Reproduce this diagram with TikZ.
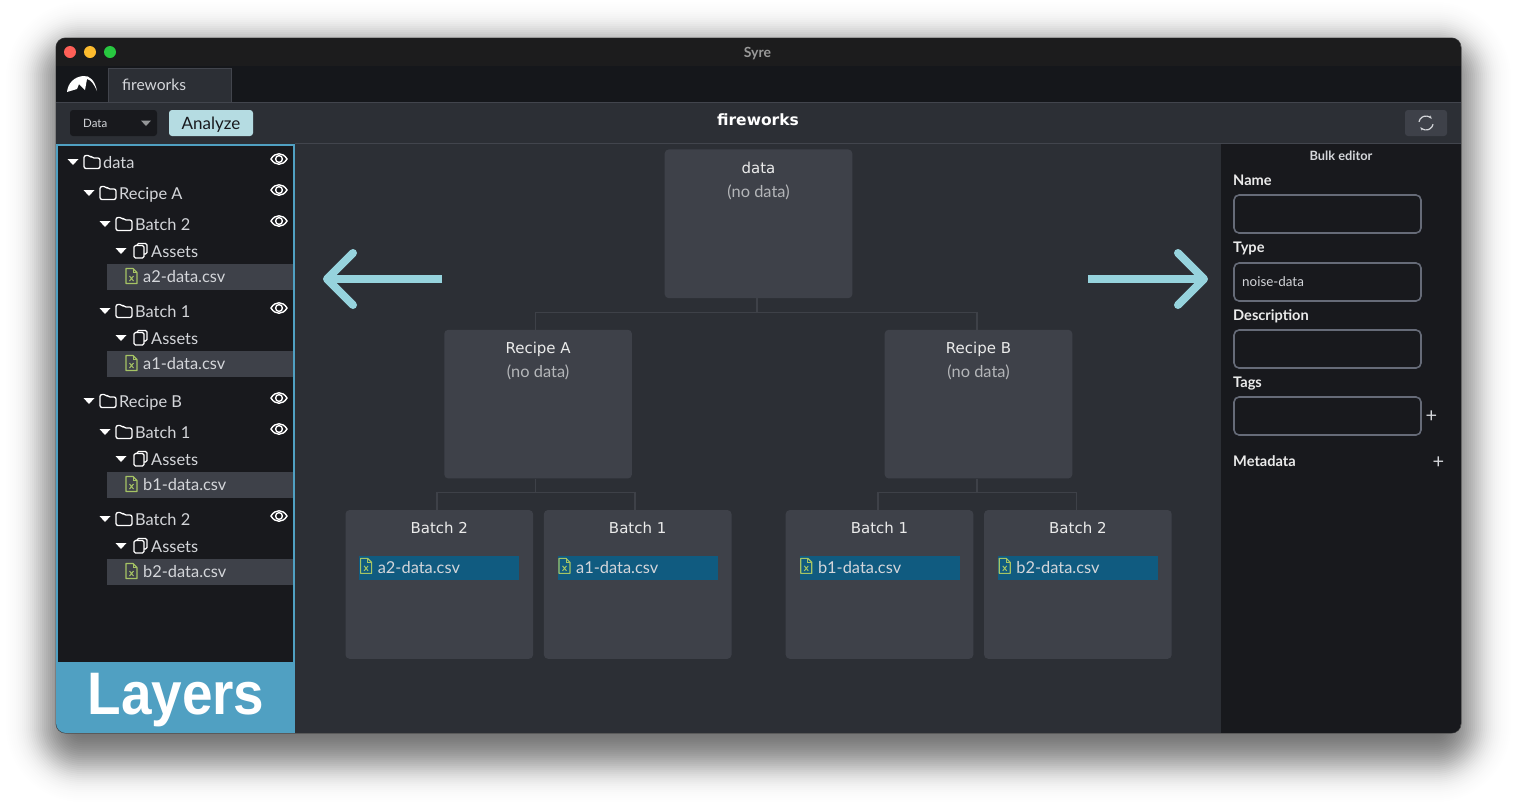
\documentclass[tikz,border=0pt]{standalone}
\usepackage{fontspec}
\setmainfont{Lato}
\newfontfamily\boxfont{DejaVu Sans}
\newfontfamily\layersfont[FakeStretch=0.915]{Liberation Sans}
\usetikzlibrary{positioning,arrows.meta}
\definecolor{winbg}{HTML}{2C2F35}
\definecolor{panelbg}{HTML}{18191D}
\definecolor{titlebg}{HTML}{1C1C1D}
\definecolor{stripbg}{HTML}{15171B}
\definecolor{boxbg}{HTML}{3E4149}
\definecolor{edgegray}{HTML}{42454D}
\definecolor{inputgray}{HTML}{666B78}
\definecolor{layerblue}{HTML}{50A0C2}
\definecolor{filebar}{HTML}{105B80}
\definecolor{filegreen}{HTML}{A6C464}
\definecolor{arrowcyan}{HTML}{96D3DD}
\definecolor{analyzecyan}{HTML}{B5DCE2}
\definecolor{softwhite}{HTML}{D4D6DA}
\definecolor{lightred}{HTML}{FF5F57}
\definecolor{lightamber}{HTML}{FEBC2E}
\definecolor{lightgreen}{HTML}{28C840}
\tikzset{
 fs/.style={font=\fontsize{#1}{#1}\selectfont},
 treelabel/.style={anchor=west, inner sep=0pt, text=softwhite, fs=16.4, text height=13pt, text depth=1pt},
 graphbox/.style={rounded corners=4pt, fill=boxbg, minimum width=187.6pt, minimum height=148.7pt, inner sep=0pt},
 boxtitle/.style={inner sep=0pt, text=white!92!black, font=\boxfont\fontsize{15}{15}\selectfont, text height=10pt, text depth=0pt},
 boxsub/.style={inner sep=0pt, text=softwhite!85!black, fs=16.4, text height=10pt, text depth=3pt},
 filechip/.style={fill=filebar, minimum width=160pt, minimum height=24pt, inner sep=0pt},
 link/.style={draw=edgegray!80!winbg, line width=1.6pt},
 inputbox/.style={draw=inputgray, line width=1.6pt, rounded corners=5pt, fill=panelbg, minimum width=187pt, minimum height=38pt, inner sep=0pt},
 formlabel/.style={anchor=west, inner sep=0pt, text=white!92!black, font=\bfseries\fontsize{14.6}{14.6}\selectfont, text height=10pt, text depth=0pt},
 bigarrow/.style={draw=arrowcyan, line width=8pt},
 pics/downtri/.style={code={\fill[white] (-5.5,-3) -- (5.5,-3) -- (0,3) -- cycle;}},
 pics/foldericon/.style={code={
   \draw[white, line width=1.3pt, rounded corners=2pt, line join=round] (0,6.5) -- (0,-6.5) -- (6,-6.5) -- (8,-4) -- (16,-4) -- (16,6.5) -- cycle;}},
 pics/stackicon/.style={code={
   \draw[white, line width=1.1pt, rounded corners=1.5pt] (3,-5.5) -- (3,-7.5) -- (13,-7.5) -- (13,3) -- (10,3);
   \draw[white, line width=1.3pt, rounded corners=1.5pt] (0,-5.5) rectangle (10,7);}},
 pics/fileicon/.style={code={
   \draw[filegreen, line width=1.2pt, line join=round] (0,-7.5) -- (7,-7.5) -- (11,-3.5) -- (11,7.5) -- (0,7.5) -- cycle;
   \draw[filegreen, line width=.9pt] (7,-7.5) -- (7,-3.5) -- (11,-3.5);
   \draw[filegreen, line width=1pt] (3.5,0) -- (7.5,5) (7.5,0) -- (3.5,5);}},
 pics/eyeicon/.style={code={
   \draw[white, line width=1.4pt] (-8,0) .. controls (-4,-7) and (4,-7) .. (8,0) .. controls (4,7) and (-4,7) .. cycle;
   \draw[white, line width=1.4pt] (0,0) circle (3.4);}},
 pics/folderrow/.style={code={
   \pic at (0,0) {downtri};
   \pic at (11,0) {foldericon};
   \node[treelabel] (-label) at (30,0) {#1};}},
 pics/assetrow/.style={code={
   \pic at (0,0) {downtri};
   \pic at (13,0) {stackicon};
   \node[treelabel] (-label) at (30,0) {Assets};}},
 pics/filerow/.style={code={
   \fill[boxbg] (-19,-12.5) rectangle (167,13.5);
   \pic at (0,-0.5) {fileicon};
   \node[treelabel] (-label) at (17,0) {#1};}},
}
\begin{document}
\begin{tikzpicture}[x=1pt, y=-1pt]
 \useasboundingbox (0,0) rectangle (1517,807);
 \fill[white] (0,0) rectangle (1517,807);
 % shadow
 \foreach \i [evaluate=\i as \r using {max(\i+32,8)}, evaluate=\i as \o using {0.033*exp(-(\i*\i)/722)}] in {54,52,...,-40} {
  \fill[black, opacity=\o, rounded corners=\r pt] (50-\i,46-\i) rectangle (1467+\i,758+\i);
 }
 \fill[black!70, rounded corners=10pt] (55.5,37.5) rectangle (1461.5,733.5);
 \begin{scope}
  \clip[rounded corners=10pt] (56,38) rectangle (1461,733);
  \fill[winbg] (56,38) rectangle (1461,733);
  \fill[titlebg] (56,38) rectangle (1461,66);
  \fill[stripbg] (56,66) rectangle (1461,102);
  \fill[panelbg] (1221,144) rectangle (1461,733);
  \fill[panelbg] (57,144) rectangle (294,662);
  \draw[edgegray, line width=1pt] (56,102.5) -- (1461,102.5) (295,143.5) -- (1461,143.5);
  \draw[layerblue, line width=2pt] (57,662) -- (57,145) -- (294,145) -- (294,662);
  \fill[layerblue] (56,662) rectangle (295,733);
 \end{scope}
 % title bar
 \fill[lightred] (70,52) circle (6);
 \fill[lightamber] (90,52) circle (6);
 \fill[lightgreen] (110,52) circle (6);
 \node[inner sep=0pt, text=white!60!black, font=\bfseries\fontsize{14}{14}\selectfont] (syre) at (757.5,53.5) {Syre};
 % tab strip
 \fill[winbg] (109,69) rectangle (231,102);
 \draw[edgegray, line width=1pt] (108.5,102) -- (108.5,68.5) -- (231.5,68.5) -- (231.5,102);
 \node[inner sep=0pt, anchor=west, text=softwhite, fs=15.6] (tabname) at (122,85) {fireworks};
 \fill[white] (67,92) .. controls (68,83) and (74,77) .. (83,76) .. controls (90,75) and (95,81) .. (97,91) .. controls (94,84) and (91,80) .. (87,79) -- (85,90) -- (79,84) -- (77,89) -- cycle;
 % toolbar
 \node[fill=panelbg, rounded corners=3pt, minimum width=87pt, minimum height=26pt, inner sep=0pt] (datamenu) at (113.5,123) {};
 \node[inner sep=0pt, anchor=west, text=softwhite, fs=11.5] (datalabel) at (83,123.5) {Data};
 \fill[softwhite!70!black] (141,120.5) -- (151,120.5) -- (146,126) -- cycle;
 \node[fill=analyzecyan, rounded corners=3pt, minimum width=84pt, minimum height=26pt, inner sep=0pt, text=panelbg, fs=17, text height=13pt, text depth=1pt] (analyze) at (211,123) {Analyze};
 \node[inner sep=0pt, text=white, font=\boxfont\bfseries\fontsize{15.5}{15.5}\selectfont] (maintitle) at (758,119.5) {fireworks};
 \node[fill=boxbg, rounded corners=3pt, minimum width=42pt, minimum height=26pt, inner sep=0pt] (refresh) at (1426,123) {};
 \draw[softwhite, line width=1.2pt, -{Stealth[length=3.5pt]}] (refresh.center) ++(-7,-1.2) arc[start angle=190, end angle=325, radius=7];
 \draw[softwhite, line width=1.2pt, -{Stealth[length=3.5pt]}] (refresh.center) ++(7,1.2) arc[start angle=10, end angle=145, radius=7];
 % tree
 \pic (tdata) at (73,162) {folderrow=data};
 \pic (trecipea) at (89,193) {folderrow=Recipe A};
 \pic (tbatcha) at (105,224) {folderrow=Batch 2};
 \pic (tassetsa) at (121,251) {assetrow};
 \pic (tfilea) at (126,276.5) {filerow=a2-data.csv};
 \pic (tbatchb) at (105,311) {folderrow=Batch 1};
 \pic (tassetsb) at (121,338) {assetrow};
 \pic (tfileb) at (126,363.5) {filerow=a1-data.csv};
 \pic (trecipeb) at (89,401) {folderrow=Recipe B};
 \pic (tbatchc) at (105,432) {folderrow=Batch 1};
 \pic (tassetsc) at (121,459) {assetrow};
 \pic (tfilec) at (126,484.5) {filerow=b1-data.csv};
 \pic (tbatchd) at (105,519) {folderrow=Batch 2};
 \pic (tassetsd) at (121,546) {assetrow};
 \pic (tfiled) at (126,571.5) {filerow=b2-data.csv};
 \pic at (279,159) {eyeicon};
 \pic at (279,190) {eyeicon};
 \pic at (279,221) {eyeicon};
 \pic at (279,308) {eyeicon};
 \pic at (279,398) {eyeicon};
 \pic at (279,429) {eyeicon};
 \pic at (279,516) {eyeicon};
 \node[inner sep=0pt, text=white, font=\layersfont\bfseries\fontsize{60}{60}\selectfont] (layers) at (176,700) {Layers};
 % graph
 \node[graphbox] (data) at (758.5,223.8) {};
 \node[graphbox, below left=31.2pt and 32.4pt of data] (recipea) {};
 \node[graphbox, below right=31.2pt and 32pt of data] (recipeb) {};
 \node[graphbox, below=31.2pt of recipea, xshift=-98.8pt] (batcha) {};
 \node[graphbox, right=10.4pt of batcha] (batchb) {};
 \node[graphbox, below=31.2pt of recipeb, xshift=-99pt] (batchc) {};
 \node[graphbox, right=10.4pt of batchc] (batchd) {};
 \node[boxtitle, below=14pt of data.north] (datatitle) {data};
 \node[boxsub, below=13.5pt of datatitle] (datasub) {(no data)};
 \node[boxtitle, below=13.5pt of recipea.north] (recipeatitle) {Recipe A};
 \node[boxsub, below=13.5pt of recipeatitle] (recipeasub) {(no data)};
 \node[boxtitle, below=13.5pt of recipeb.north] (recipebtitle) {Recipe B};
 \node[boxsub, below=13.5pt of recipebtitle] (recipebsub) {(no data)};
 \node[boxtitle, below=13.5pt of batcha.north] (batchatitle) {Batch 2};
 \node[boxtitle, below=13.5pt of batchb.north] (batchbtitle) {Batch 1};
 \node[boxtitle, below=13.5pt of batchc.north] (batchctitle) {Batch 1};
 \node[boxtitle, below=13.5pt of batchd.north] (batchdtitle) {Batch 2};
 \node[filechip, below=45.8pt of batcha.north] (chipa) {};
 \node[filechip, below=45.8pt of batchb.north] (chipb) {};
 \node[filechip, below=45.8pt of batchc.north] (chipc) {};
 \node[filechip, below=45.8pt of batchd.north] (chipd) {};
 \pic at ([xshift=1.5pt,yshift=2pt]chipa.west) {fileicon};
 \pic at ([xshift=1.5pt,yshift=2pt]chipb.west) {fileicon};
 \pic at ([xshift=1.5pt,yshift=2pt]chipc.west) {fileicon};
 \pic at ([xshift=1.5pt,yshift=2pt]chipd.west) {fileicon};
 \node[treelabel, right=18.5pt of chipa.west] (chipatext) {a2-data.csv};
 \node[treelabel, right=18.5pt of chipb.west] (chipbtext) {a1-data.csv};
 \node[treelabel, right=18.5pt of chipc.west] (chipctext) {b1-data.csv};
 \node[treelabel, right=18.5pt of chipd.west] (chipdtext) {b2-data.csv};
 \draw[link] ([xshift=-1.5pt]data.south) -- ++(0,14) -| ([xshift=-2.5pt]recipea.north);
 \draw[link] ([xshift=-1.5pt]data.south) -- ++(0,14) -| ([xshift=-1.5pt]recipeb.north);
 \draw[link] ([xshift=-2.5pt]recipea.south) -- ++(0,14) -| ([xshift=-2.5pt]batcha.north);
 \draw[link] ([xshift=-2.5pt]recipea.south) -- ++(0,14) -| ([xshift=-2.5pt]batchb.north);
 \draw[link] ([xshift=-1.5pt]recipeb.south) -- ++(0,14) -| ([xshift=-1.5pt]batchc.north);
 \draw[link] ([xshift=-1.5pt]recipeb.south) -- ++(0,14) -| ([xshift=-1.5pt]batchd.north);
 % big arrows
 \coordinate (lefttail) at (442,279);
 \coordinate (lefttip) at (327,279);
 \coordinate (righttail) at (1088,279);
 \coordinate (righttip) at (1204,279);
 \draw[bigarrow] (lefttail) -- (lefttip);
 \draw[bigarrow] (righttail) -- (righttip);
 \draw[bigarrow, line cap=round, line join=round] ([shift={(26,-26)}]lefttip) -- (lefttip) -- ([shift={(26,26)}]lefttip);
 \draw[bigarrow, line cap=round, line join=round] ([shift={(-26,-26)}]righttip) -- (righttip) -- ([shift={(-26,26)}]righttip);
 % bulk editor
 \node[inner sep=0pt, text=softwhite, font=\bfseries\fontsize{12.8}{12.8}\selectfont] (bulk) at (1341,156) {Bulk editor};
 \node[formlabel] (namelabel) at (1233,180) {Name};
 \node[inputbox] (nameinput) at (1327.5,214) {};
 \node[formlabel] (typelabel) at (1233,247.5) {Type};
 \node[inputbox] (typeinput) at (1327.5,282) {};
 \node[inner sep=0pt, anchor=west, text=softwhite, fs=13.4] (typevalue) at (1242,282) {noise-data};
 \node[formlabel] (desclabel) at (1233,315) {Description};
 \node[inputbox] (descinput) at (1327.5,349) {};
 \node[formlabel] (tagslabel) at (1233,382) {Tags};
 \node[inputbox] (tagsinput) at (1327.5,416) {};
 \node[inner sep=0pt, text=softwhite, fs=20, yshift=-1pt] (tagsplus) at (1431.5,416) {+};
 \node[formlabel] (metalabel) at (1233,461.5) {Metadata};
 \node[inner sep=0pt, text=softwhite, fs=20, yshift=-1pt] (metaplus) at (1438.5,462) {+};
\end{tikzpicture}
\end{document}
